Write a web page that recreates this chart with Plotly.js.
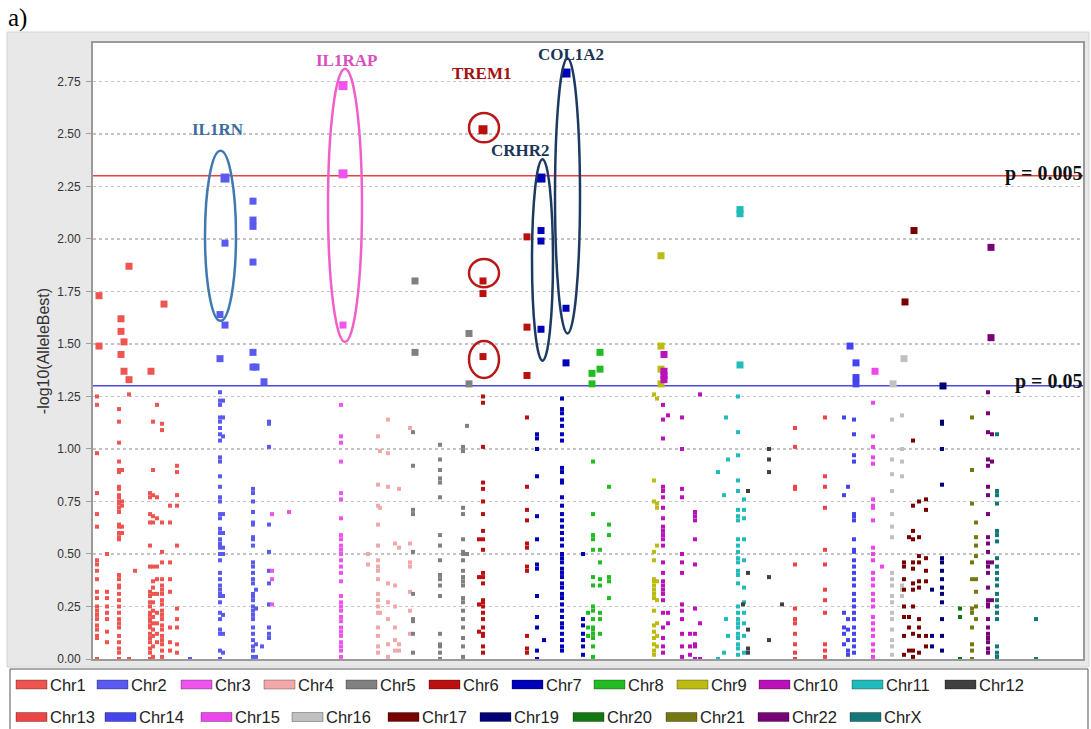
<!DOCTYPE html>
<html>
<head>
<meta charset="utf-8">
<script src="https://cdn.plot.ly/plotly-3.0.1.min.js"></script>
<style>
  html, body { margin: 0; padding: 0; background: #ffffff; }
  #chart { width: 1091px; height: 729px; }
</style>
</head>
<body>
<div id="chart"></div>
<script>
// Chromosome names and colours (legend order)
const chromNames = ['Chr1', 'Chr2', 'Chr3', 'Chr4', 'Chr5', 'Chr6', 'Chr7', 'Chr8', 'Chr9', 'Chr10', 'Chr11', 'Chr12',
                    'Chr13', 'Chr14', 'Chr15', 'Chr16', 'Chr17', 'Chr19', 'Chr20', 'Chr21', 'Chr22', 'ChrX'];
const chromColors = ['#ee5550', '#5a5aee', '#ee55ee', '#f2a8a8', '#808080', '#bb1010', '#0000bb', '#22bb22',
                     '#bbbb11', '#bb11bb', '#22bbbb', '#404040', '#ee4444', '#4444ee', '#ee44ee', '#c0c0c0',
                     '#770000', '#000077', '#117711', '#777711', '#770077', '#117777'];

// SNP results per chromosome: [position, [-log10(AlleleBest) values at that position]]
const chr1 = [
  [4, [1.25, 1.21, 0.98, 0.79, 0.69, 0.63, 0.47, 0.45, 0.42, 0.38, 0.32, 0.29, 0.25, 0.23, 0.21, 0.19, 0.16, 0.14, 0.11, 0.10, 0.00]],
  [6, [1.73, 1.49]],
  [14, [0.50, 0.32, 0.29, 0.25, 0.22, 0.19, 0.13, 0.08]],
  [26, [1.19, 1.13, 1.03, 0.94, 0.90, 0.89, 0.82, 0.81, 0.78, 0.77, 0.75, 0.74, 0.72, 0.70, 0.64, 0.63, 0.60, 0.58, 0.57, 0.40, 0.38, 0.35, 0.34, 0.31, 0.28, 0.25, 0.22, 0.19, 0.17, 0.15, 0.11, 0.08, 0.05, 0.03, 0.00]],
  [28, [1.62, 1.56, 1.45]],
  [29, [0.90, 0.75, 0.73, 0.63, 0.60]],
  [31, [1.51, 1.37]],
  [36, [1.87, 1.33, 1.26, 0.00]],
  [42, [0.42]],
  [57, [0.79, 0.77, 0.69, 0.65, 0.54, 0.44, 0.32, 0.30, 0.27, 0.25, 0.22, 0.21, 0.19, 0.18, 0.16, 0.15, 0.12, 0.10, 0.08, 0.05, 0.03, 0.00]],
  [58, [1.37]],
  [60, [1.13, 0.90, 0.78, 0.68, 0.65, 0.44, 0.37, 0.34, 0.31, 0.27, 0.23, 0.20, 0.17, 0.14, 0.11, 0.06, 0.01]],
  [64, [1.21, 0.77, 0.67, 0.44, 0.38, 0.31, 0.22, 0.17, 0.12, 0.08]],
  [69, [1.12, 1.09, 0.65, 0.51, 0.46, 0.38, 0.35, 0.33, 0.31, 0.28, 0.26, 0.23, 0.21, 0.19, 0.16, 0.14, 0.11, 0.09, 0.07, 0.04, 0.01]],
  [71, [1.69]],
  [77, [0.73, 0.65, 0.46, 0.38, 0.32, 0.15, 0.08, 0.04]],
  [84, [0.92, 0.89, 0.78, 0.73, 0.54, 0.24, 0.19, 0.15, 0.07, 0.03]]
];
const chr2 = [
  [97, [0.00]],
  [127, [1.64, 1.43, 1.27, 1.23, 1.21, 1.15, 1.13, 1.10, 1.07, 1.04, 0.96, 0.94, 0.87, 0.82, 0.77, 0.75, 0.69, 0.67, 0.62, 0.60, 0.57, 0.55, 0.54, 0.53, 0.50, 0.47, 0.41, 0.38, 0.35, 0.33, 0.31, 0.30, 0.27, 0.22, 0.19, 0.14, 0.12, 0.04, 0.00]],
  [130, [1.23, 1.15, 1.06, 0.69, 0.60, 0.53, 0.50, 0.30, 0.21, 0.12, 0.03]],
  [132, [2.29, 1.98, 1.59]],
  [160, [2.18, 2.09, 2.06, 1.89, 1.46, 1.39, 0.81, 0.79, 0.75, 0.70, 0.65, 0.64, 0.58, 0.57, 0.54, 0.46, 0.44, 0.41, 0.38, 0.36, 0.31, 0.30, 0.28, 0.25, 0.23, 0.21, 0.19, 0.15, 0.12, 0.09, 0.06, 0.04, 0.01]],
  [163, [1.39, 0.33, 0.24, 0.07, 0.01]],
  [169, [0.06]],
  [171, [1.32]],
  [176, [1.13, 1.12, 1.01, 0.64, 0.51, 0.42, 0.36, 0.26, 0.15, 0.12, 0.10]]
];
const chr3 = [
  [179, [0.69, 0.42, 0.38, 0.26]],
  [196, [0.70]],
  [248, [1.21, 1.06, 1.03, 0.94, 0.79, 0.76, 0.67, 0.59, 0.57, 0.54, 0.52, 0.50, 0.47, 0.44, 0.41, 0.37, 0.30, 0.27, 0.25, 0.23, 0.20, 0.18, 0.15, 0.13, 0.11, 0.08, 0.06, 0.04, 0.01]],
  [250, [2.73, 2.31, 1.59]]
];
const chr4 = [
  [275, [0.50, 0.45]],
  [285, [1.06, 0.83, 0.73, 0.64, 0.54, 0.47, 0.44, 0.42, 0.38, 0.31, 0.28, 0.25, 0.22, 0.15, 0.11, 0.06, 0.03]],
  [287, [0.99, 0.72, 0.22]],
  [295, [1.14, 0.98, 0.82, 0.36, 0.27, 0.19, 0.07, 0.01]],
  [302, [0.55, 0.35, 0.25, 0.15, 0.09, 0.04]],
  [306, [0.81, 0.53, 0.07, 0.04]],
  [317, [1.10, 0.55, 0.46, 0.44, 0.32, 0.23, 0.12]]
];
const chr5 = [
  [320, [1.08, 0.92, 0.71, 0.69, 0.51, 0.31, 0.19, 0.18, 0.12, 0.03]],
  [322, [1.80, 1.46]],
  [347, [1.02, 0.95, 0.90, 0.86, 0.84, 0.77, 0.59, 0.54, 0.47, 0.40, 0.38, 0.35, 0.30, 0.12, 0.07, 0.06, 0.03, 0.00]],
  [370, [1.01, 0.99, 0.72, 0.69, 0.57, 0.51, 0.50, 0.47, 0.42, 0.39, 0.37, 0.35, 0.29, 0.27, 0.23, 0.19, 0.15, 0.10, 0.06, 0.01]],
  [374, [1.11, 0.50]],
  [376, [1.55, 1.31]]
];
const chr6 = [
  [386, [0.57, 0.39, 0.26, 0.13]],
  [390, [2.52, 1.80, 1.74, 1.44, 1.25, 1.22, 1.01, 0.84, 0.81, 0.75, 0.69, 0.61, 0.57, 0.52, 0.41, 0.39, 0.36, 0.28, 0.27, 0.25, 0.22, 0.19, 0.15, 0.12, 0.11, 0.06, 0.03]],
  [434, [2.01, 1.58, 1.35, 1.15, 0.82, 0.71, 0.66, 0.55, 0.53, 0.44, 0.42, 0.11, 0.05, 0.03]]
];
const chr7 = [
  [444, [1.07, 1.05, 1.00, 0.87, 0.68, 0.57, 0.45, 0.43, 0.30, 0.20, 0.15, 0.04, 0.00]],
  [448, [2.29, 2.04, 1.99, 1.57]],
  [451, [0.09]],
  [469, [1.24, 1.19, 1.17, 1.14, 1.11, 1.07, 1.04, 0.91, 0.89, 0.85, 0.84, 0.77, 0.73, 0.69, 0.66, 0.63, 0.60, 0.57, 0.54, 0.50, 0.48, 0.46, 0.43, 0.41, 0.39, 0.36, 0.34, 0.31, 0.29, 0.26, 0.23, 0.20, 0.17, 0.15, 0.12, 0.09, 0.06, 0.04]],
  [473, [2.79, 1.67, 1.41]],
  [490, [0.50, 0.19, 0.16, 0.12, 0.09, 0.06, 0.02]]
];
const chr8 = [
  [495, [0.22, 0.15, 0.11]],
  [499, [1.36, 1.31]],
  [500, [0.94, 0.69, 0.59, 0.57, 0.52, 0.39, 0.35, 0.25, 0.23, 0.19, 0.15, 0.14, 0.12, 0.10, 0.06, 0.01]],
  [507, [1.46, 1.38, 0.52, 0.46, 0.38, 0.35, 0.22, 0.19, 0.12]],
  [516, [0.82, 0.64, 0.59, 0.39, 0.37, 0.29]]
];
const chr9 = [
  [561, [1.26, 0.85, 0.75, 0.51, 0.47, 0.38, 0.37, 0.35, 0.33, 0.31, 0.29, 0.23, 0.16, 0.13, 0.10, 0.07, 0.04, 0.02]],
  [564, [1.24, 0.74, 0.72, 0.54, 0.37, 0.28, 0.17, 0.11, 0.06]],
  [568, [1.92, 1.49, 1.38, 1.31]]
];
const chr10 = [
  [570, [1.21, 1.14, 1.05, 0.82, 0.80, 0.77, 0.72, 0.67, 0.63, 0.61, 0.59, 0.57, 0.54, 0.46, 0.41, 0.37, 0.35, 0.33, 0.31, 0.28, 0.22, 0.15, 0.10, 0.06, 0.03]],
  [571, [1.45, 1.37, 1.35, 1.33]],
  [575, [1.16, 0.22, 0.17]],
  [589, [1.15, 1.00, 0.81, 0.77, 0.50, 0.46, 0.41, 0.26, 0.23, 0.19, 0.12, 0.06, 0.01]],
  [597, [0.12, 0.06, 0.02]],
  [602, [0.70, 0.68, 0.66, 0.57, 0.45, 0.24, 0.12, 0.07, 0.06, 0.00]],
  [607, [1.26, 0.17, 0.00]]
];
const chr11 = [
  [625, [0.89, 0.00]],
  [631, [0.78, 0.03]],
  [633, [1.15, 0.19]],
  [635, [0.95, 0.11]],
  [645, [1.25, 1.08, 0.97, 0.85, 0.80, 0.71, 0.68, 0.66, 0.57, 0.54, 0.51, 0.48, 0.46, 0.42, 0.40, 0.36, 0.25, 0.22, 0.19, 0.17, 0.15, 0.12, 0.10, 0.07, 0.05, 0.02]],
  [647, [2.14, 2.12, 1.40]],
  [651, [0.76, 0.71, 0.67, 0.57, 0.47, 0.34, 0.27, 0.22, 0.17, 0.11, 0.03]]
];
const chr12 = [
  [650, [0.26]],
  [655, [0.80, 0.41, 0.14, 0.05, 0.03]],
  [676, [1.00, 0.95, 0.89, 0.39, 0.09]],
  [689, [0.26]]
];
const chr13 = [
  [702, [1.10, 1.01, 0.82, 0.81, 0.45, 0.24, 0.19, 0.17, 0.12, 0.07, 0.03, 0.00]],
  [732, [1.15, 0.87, 0.82, 0.72, 0.52, 0.45, 0.33, 0.28, 0.22, 0.07, 0.04, 0.01]]
];
const chr14 = [
  [751, [1.15, 0.78, 0.22, 0.15, 0.12, 0.07]],
  [755, [0.82, 0.19, 0.14, 0.09, 0.04, 0.02]],
  [757, [1.49]],
  [761, [1.14, 1.07, 0.97, 0.94, 0.69, 0.68, 0.66, 0.57, 0.52, 0.51, 0.47, 0.44, 0.41, 0.38, 0.35, 0.31, 0.28, 0.25, 0.22, 0.19, 0.15, 0.12, 0.09, 0.06, 0.03]],
  [763, [1.41, 1.34, 1.31]]
];
const chr15 = [
  [780, [1.22, 1.06, 1.01, 0.96, 0.93, 0.76, 0.73, 0.72, 0.66, 0.53, 0.50, 0.47, 0.41, 0.38, 0.35, 0.31, 0.28, 0.25, 0.20, 0.17, 0.14, 0.11, 0.07, 0.04, 0.01]],
  [782, [1.37]],
  [789, [0.44]]
];
const chr16 = [
  [799, [1.14, 0.95, 0.88, 0.80, 0.69, 0.63, 0.58, 0.41, 0.38, 0.35, 0.30, 0.27, 0.22, 0.19, 0.14, 0.09, 0.06, 0.02]],
  [800, [1.31]],
  [809, [1.16, 1.00, 0.94, 0.87, 0.35, 0.33, 0.30]],
  [811, [1.43]]
];
const chr17 = [
  [811, [0.46, 0.44, 0.38, 0.33, 0.25, 0.20, 0.11, 0.02]],
  [812, [1.70]],
  [816, [0.58, 0.20, 0.15, 0.04]],
  [820, [1.04, 0.73, 0.61, 0.57, 0.46, 0.43, 0.36, 0.33, 0.25, 0.12, 0.04, 0.01]],
  [821, [2.04]],
  [826, [0.75, 0.58, 0.49, 0.46, 0.37, 0.34, 0.19, 0.15, 0.11, 0.03]],
  [833, [0.76, 0.71, 0.48, 0.42, 0.37, 0.11, 0.06]]
];
const chr19 = [
  [839, [0.33, 0.11, 0.06]],
  [849, [1.13, 1.12, 1.00, 0.83, 0.48, 0.46, 0.42, 0.38, 0.34, 0.31, 0.27, 0.19, 0.11, 0.04]],
  [850, [1.30]]
];
const chr20 = [
  [867, [0.24, 0.20, 0.00]]
];
const chr21 = [
  [879, [1.15, 0.90, 0.74, 0.46, 0.38, 0.24, 0.22, 0.15, 0.07, 0.04, 0.00]],
  [883, [0.65, 0.58, 0.54, 0.49, 0.38, 0.32, 0.25, 0.19]]
];
const chr22 = [
  [895, [1.27, 1.17, 1.08, 0.95, 0.92, 0.82, 0.78, 0.69, 0.58, 0.55, 0.51, 0.46, 0.44, 0.41, 0.34, 0.28, 0.26, 0.25, 0.19, 0.15, 0.12, 0.10, 0.08, 0.05, 0.03]],
  [898, [1.96, 1.53]],
  [899, [1.07, 0.94, 0.46, 0.28]]
];
const chrX = [
  [904, [1.07, 0.80, 0.78, 0.74, 0.61, 0.59, 0.56, 0.48, 0.44, 0.41, 0.38, 0.35, 0.31, 0.28, 0.25, 0.22, 0.19, 0.06, 0.03, 0.01]],
  [943, [0.19, 0.00]]
];
const chromData = [chr1, chr2, chr3, chr4, chr5, chr6, chr7, chr8, chr9, chr10, chr11, chr12,
                   chr13, chr14, chr15, chr16, chr17, chr19, chr20, chr21, chr22, chrX];

// Significance thresholds (p values)
const pThresholds = [0.005, 0.05];
const pLabels = ['p = 0.005', 'p = 0.05'];
const pColors = ['#e84040', '#4a4ae0'];

// Y axis ticks
const yTicks = [0, 0.25, 0.5, 0.75, 1.0, 1.25, 1.5, 1.75, 2.0, 2.25, 2.5, 2.75];

// Highlighted genes: label, colours, ring extents (position / -log10 p) and label anchor
const genes = [
  {name: 'IL1RN',  text: '#3d6d9e', ring: '#3f79b0', x0: 112, x1: 143, y0: 1.61, y1: 2.42, lx: 125, ly: 2.52},
  {name: 'IL1RAP', text: '#d94fc0', ring: '#f060c8', x0: 235, x1: 269, y0: 1.51, y1: 2.81, lx: 253, ly: 2.85},
  {name: 'TREM1',  text: '#a31010', ring: '#b81818', x0: 376, x1: 406, y0: 2.46, y1: 2.60, lx: 389, ly: 2.79},
  {name: 'CRHR2',  text: '#1c3557', ring: '#1c3a60', x0: 439, x1: 460, y0: 1.42, y1: 2.38, lx: 427, ly: 2.42},
  {name: 'COL1A2', text: '#1c3557', ring: '#1c3a60', x0: 462, x1: 487, y0: 1.55, y1: 2.86, lx: 478, ly: 2.88}
];
// Extra TREM1 rings around its secondary hits
const trem1Rings = [[1.77, 1.905], [1.338, 1.514]];

// ---- page geometry helpers (pixel -> paper coordinates) ----
const W = 1091, H = 729, ML = 93, MR = 8, MT = 43, MB = 70;
const PW = W - ML - MR, PH = H - MT - MB;
const px = v => (v - ML) / PW;
const py = v => (H - MB - v) / PH;

const serif = 'Liberation Serif, Times New Roman, serif';
const sans = 'Liberation Sans, Arial, sans-serif';

// ---- traces ----
const traces = chromData.map((cols, i) => {
  const x = [], y = [];
  cols.forEach(([pos, vals]) => vals.forEach(v => { x.push(pos); y.push(v); }));
  return {
    type: 'scatter', mode: 'markers', name: chromNames[i], x: x, y: y,
    marker: {
      symbol: 'square', color: chromColors[i], opacity: 1, line: {width: 0},
      size: y.map(v => v >= 2.25 ? 9 : (v >= 1.3 ? 7 : 4))
    },
    showlegend: false, hoverinfo: 'x+y+name'
  };
});

// ---- shapes ----
const shapes = [];
// grey panel behind the chart
shapes.push({type: 'rect', xref: 'paper', yref: 'paper', layer: 'below',
  x0: px(7), x1: px(1089), y0: py(667), y1: py(32),
  fillcolor: '#e8e8e8', line: {color: '#d4d4d4', width: 1}});
// white plotting area
shapes.push({type: 'rect', xref: 'paper', yref: 'paper', layer: 'below',
  x0: 0, x1: 1, y0: 0, y1: 1, fillcolor: '#ffffff', line: {width: 0}});
// threshold lines
pThresholds.forEach((p, i) => {
  shapes.push({type: 'line', xref: 'paper', yref: 'y', x0: 0, x1: 1,
    y0: -Math.log10(p), y1: -Math.log10(p), layer: 'below',
    line: {color: pColors[i], width: 1.5}});
});
// gene rings
genes.forEach(g => {
  shapes.push({type: 'circle', xref: 'x', yref: 'y', x0: g.x0, x1: g.x1, y0: g.y0, y1: g.y1,
    line: {color: g.ring, width: 2.5}, fillcolor: 'rgba(0,0,0,0)'});
});
trem1Rings.forEach(r => {
  const g = genes[2];
  shapes.push({type: 'circle', xref: 'x', yref: 'y', x0: g.x0, x1: g.x1, y0: r[0], y1: r[1],
    line: {color: g.ring, width: 2.5}, fillcolor: 'rgba(0,0,0,0)'});
});
// legend box
shapes.push({type: 'rect', xref: 'paper', yref: 'paper',
  x0: px(10), x1: px(1088), y0: py(731), y1: py(669),
  fillcolor: '#ffffff', line: {color: '#555555', width: 1}});

// ---- annotations ----
const annotations = [];
annotations.push({xref: 'paper', yref: 'paper', x: px(6), y: py(18), xanchor: 'left', yanchor: 'middle',
  text: 'a)', showarrow: false, font: {family: serif, size: 25, color: '#000000'}});
genes.forEach(g => {
  annotations.push({xref: 'x', yref: 'y', x: g.lx, y: g.ly, xanchor: 'center', yanchor: 'middle',
    text: '<b>' + g.name + '</b>', showarrow: false, font: {family: serif, size: 17, color: g.text}});
});
pThresholds.forEach((p, i) => {
  annotations.push({xref: 'paper', yref: 'y', x: px(1085), y: -Math.log10(p) + (i === 0 ? 0.01 : 0.02),
    xanchor: 'right', yanchor: 'middle', text: '<b>' + pLabels[i] + '</b>', showarrow: false,
    font: {family: serif, size: 20, color: '#111111'}});
});

// ---- legend (two rows inside the box below the chart) ----
const legendRows = [
  {y: 684.5, starts: [16, 97, 181, 264, 346, 429, 512, 594, 677, 759, 852, 945]},
  {y: 717, starts: [16, 105, 201, 292, 388, 480, 573, 666, 758, 850]}
];
let k = 0;
legendRows.forEach(row => {
  row.starts.forEach(sx => {
    const idx = k++;
    shapes.push({type: 'rect', xref: 'paper', yref: 'paper',
      x0: px(sx), x1: px(sx + 31), y0: py(row.y + 4.5), y1: py(row.y - 4.5),
      fillcolor: chromColors[idx], line: {color: 'rgba(0,0,0,0.3)', width: 1}});
    annotations.push({xref: 'paper', yref: 'paper', x: px(sx + 32), y: py(row.y),
      xanchor: 'left', yanchor: 'middle', text: chromNames[idx], showarrow: false,
      font: {family: sans, size: 16.5, color: '#222222'}});
  });
});

const layout = {
  width: W, height: H,
  margin: {l: ML, r: MR, t: MT, b: MB, pad: 0},
  paper_bgcolor: '#ffffff', plot_bgcolor: '#ffffff',
  showlegend: false, hovermode: 'closest',
  xaxis: {range: [0, 990], showticklabels: false, ticks: '', showgrid: false, zeroline: false,
    showline: true, mirror: true, linecolor: '#9a9a9a', linewidth: 2, fixedrange: true},
  yaxis: {range: [0, 2.933], tickvals: yTicks, tickformat: '.2f', ticks: 'outside', ticklen: 5,
    tickcolor: '#a0a0a0', ticklabelstandoff: 3,
    tickfont: {family: sans, size: 12, color: '#333333'},
    showgrid: true, gridcolor: '#c4c4c4', griddash: 'dot', gridwidth: 1.5, zeroline: false,
    showline: true, mirror: true, linecolor: '#9a9a9a', linewidth: 2, fixedrange: true,
    title: {text: '-log10(AlleleBest)', font: {family: sans, size: 16, color: '#333333'}, standoff: 4}},
  shapes: shapes,
  annotations: annotations
};

Plotly.newPlot('chart', traces, layout, {displayModeBar: false, staticPlot: true});
</script>
</body>
</html>
